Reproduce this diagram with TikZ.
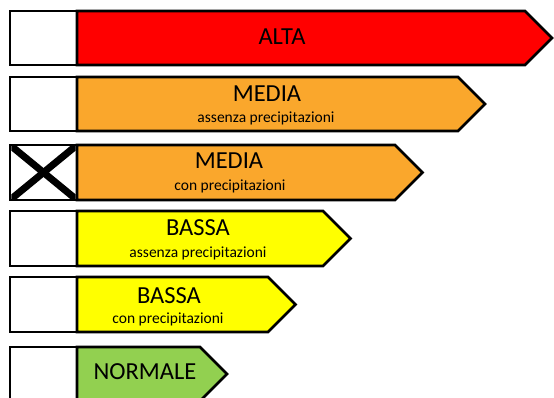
\documentclass[tikz,border=0pt]{standalone}
\usepackage{fontspec}
\setmainfont{Carlito}
\definecolor{alta}{HTML}{FF0000}
\definecolor{media}{HTML}{FAA72C}
\definecolor{bassa}{HTML}{FFFF00}
\definecolor{normale}{HTML}{92D050}
\tikzset{
  outline/.style={draw=black, line width=2.6pt, line join=miter},
  checkbox/.style={outline, fill=white},
  big/.style={font=\fontsize{24.5}{26}\selectfont, anchor=base, inner sep=0pt},
  small/.style={font=\fontsize{15.5}{17}\selectfont, anchor=base, inner sep=0pt},
}
% #1 name, #2 top, #3 bottom, #4 body end, #5 colour
\newcommand{\levelrow}[5]{%
  \path[checkbox] (10,#2) rectangle (77,#3);
  \coordinate (#1-box-nw) at (10,#2);
  \coordinate (#1-box-se) at (77,#3);
  \path[outline, fill=#5] (77,#2) -- (#4,#2) -- ({#4+0.5*(#3-#2)},{0.5*(#2+#3)}) -- (#4,#3) -- (77,#3) -- cycle;
}
\begin{document}
\begin{tikzpicture}[x=1pt,y=-1pt]
\useasboundingbox (0,0) rectangle (554,398);
\levelrow{r1}{11}{65}{525}{alta}
\levelrow{r2}{77}{131}{458}{media}
\levelrow{r3}{145}{200}{395}{media}
\levelrow{r4}{211}{266}{323}{bassa}
\levelrow{r5}{277}{332}{268}{bassa}
\levelrow{r6}{347}{401}{200}{normale}
% cross in row 3
\begin{scope}
  \clip (11.3,146.3) rectangle (75.7,198.7);
  \draw[line width=7pt] (r3-box-nw) -- (r3-box-se);
  \draw[line width=7pt] (10,200) -- (77,145);
\end{scope}
\node[big] (t1) at (282,45) {ALTA};
\node[big] (t2) at (267,102) {MEDIA};
\node[small] (s2) at (266,123) {assenza precipitazioni};
\node[big] (t3) at (229,169) {MEDIA};
\node[small] (s3) at (230,191) {con precipitazioni};
\node[big] (t4) at (198,236) {BASSA};
\node[small] (s4) at (198,257) {assenza precipitazioni};
\node[big] (t5) at (169,303) {BASSA};
\node[small] (s5) at (168,323) {con precipitazioni};
\node[big] (t6) at (145,379) {NORMALE};
\end{tikzpicture}
\end{document}
